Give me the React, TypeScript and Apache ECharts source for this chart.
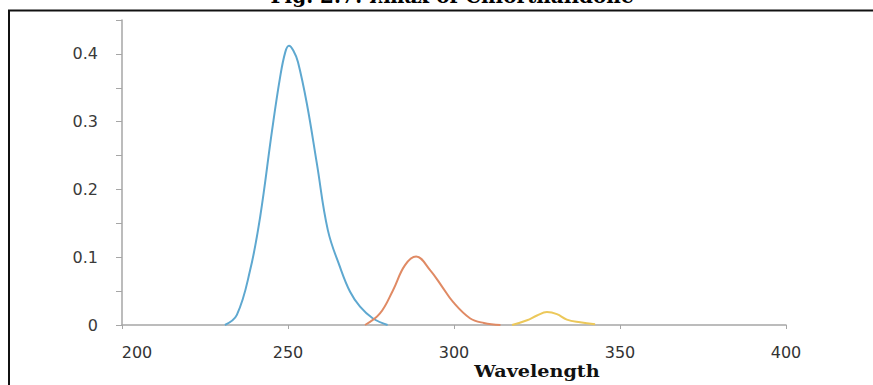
import React, { useEffect, useRef } from "react";
import * as echarts from "echarts";

const title = "Fig. 2.7: λmax of Chlorthalidone";
const xAxisName = "Wavelength";

const blueWavelength = [231, 234.6, 238.6, 241.6, 245.2, 247.6, 249.2, 250.3, 251.6, 253, 255.7, 258.7, 262, 265.7, 268.7, 271.7, 275.5, 280];
const blueAbsorbance = [0, 0.015, 0.081, 0.159, 0.287, 0.365, 0.403, 0.412, 0.405, 0.388, 0.326, 0.238, 0.14, 0.085, 0.049, 0.027, 0.01, 0];

const orangeWavelength = [273.2, 277.7, 281.6, 285.2, 288.6, 292.8, 296.5, 299.7, 304.8, 309, 314];
const orangeAbsorbance = [0, 0.017, 0.051, 0.088, 0.101, 0.081, 0.056, 0.034, 0.01, 0.003, 0];

const yellowWavelength = [317.5, 322, 325, 328, 331, 334, 338, 342.5];
const yellowAbsorbance = [0, 0.007, 0.014, 0.019, 0.016, 0.008, 0.004, 0.001];

const zip = (xs: number[], ys: number[]) => xs.map((x, i) => [x, ys[i]]);

export default function App() {
  const ref = useRef<HTMLDivElement>(null);
  useEffect(() => {
    if (!ref.current) return;
    const chart = echarts.init(ref.current, null, { renderer: "svg" });
    const lineSeries = (data: number[][], color: string) => ({
      type: "line",
      data,
      smooth: 0.4,
      showSymbol: false,
      lineStyle: { color, width: 2 },
    });
    chart.setOption({
      animation: false,
      grid: { left: 122, right: 87, top: 20, bottom: 60 },
      xAxis: {
        type: "value",
        min: 200,
        max: 400,
        interval: 50,
        splitLine: { show: false },
        axisLine: { lineStyle: { color: "#a6a6a6", width: 1.5 } },
        axisTick: { length: 4, lineStyle: { color: "#a6a6a6" } },
        axisLabel: {
          color: "#333",
          fontSize: 16,
          fontFamily: "DejaVu Sans",
          margin: 19,
          formatter: (v: number) => (v === 200 ? "{first|" + v + "}" : String(v)),
          rich: {
            first: { color: "#333", fontSize: 16, fontFamily: "DejaVu Sans", padding: [0, 0, 0, 30] },
          },
        },
      },
      yAxis: {
        type: "value",
        min: 0,
        max: 0.45,
        interval: 0.05,
        splitLine: { show: false },
        axisLine: { show: true, lineStyle: { color: "#a6a6a6", width: 1.5 } },
        axisTick: { show: true, length: 6, lineStyle: { color: "#a6a6a6" } },
        axisLabel: {
          color: "#3a3a3a",
          fontSize: 16,
          fontFamily: "DejaVu Sans",
          margin: 24,
          formatter: (v: number) => {
            const k = Math.round(v * 100);
            if (k % 10 !== 0) return "";
            return k === 0 ? "0" : (k / 100).toFixed(1);
          },
        },
      },
      graphic: [
        { type: "line", shape: { x1: 8, y1: 10.5, x2: 873, y2: 10.5 }, style: { stroke: "#111", lineWidth: 2 } },
        { type: "line", shape: { x1: 9, y1: 10, x2: 9, y2: 385 }, style: { stroke: "#111", lineWidth: 2 } },
        {
          type: "text",
          x: 452,
          y: 6,
          style: {
            text: title,
            font: "bold 20px 'DejaVu Serif'",
            fill: "#000",
            textAlign: "center",
            textVerticalAlign: "bottom",
          },
        },
        {
          type: "text",
          x: 537,
          y: 379,
          scaleX: 1.2,
          style: {
            text: xAxisName,
            font: "bold 16px 'DejaVu Serif'",
            fill: "#111",
            textAlign: "center",
            textVerticalAlign: "bottom",
          },
        },
      ],
      series: [
        lineSeries(zip(blueWavelength, blueAbsorbance), "#5ea8d0"),
        lineSeries(zip(orangeWavelength, orangeAbsorbance), "#e08a64"),
        lineSeries(zip(yellowWavelength, yellowAbsorbance), "#ecc85a"),
      ],
    });
    return () => chart.dispose();
  }, []);
  return (
    <div
      ref={ref}
      style={{ position: "absolute", left: 0, top: 0, width: 873, height: 385, background: "#fff" }}
    />
  );
}
